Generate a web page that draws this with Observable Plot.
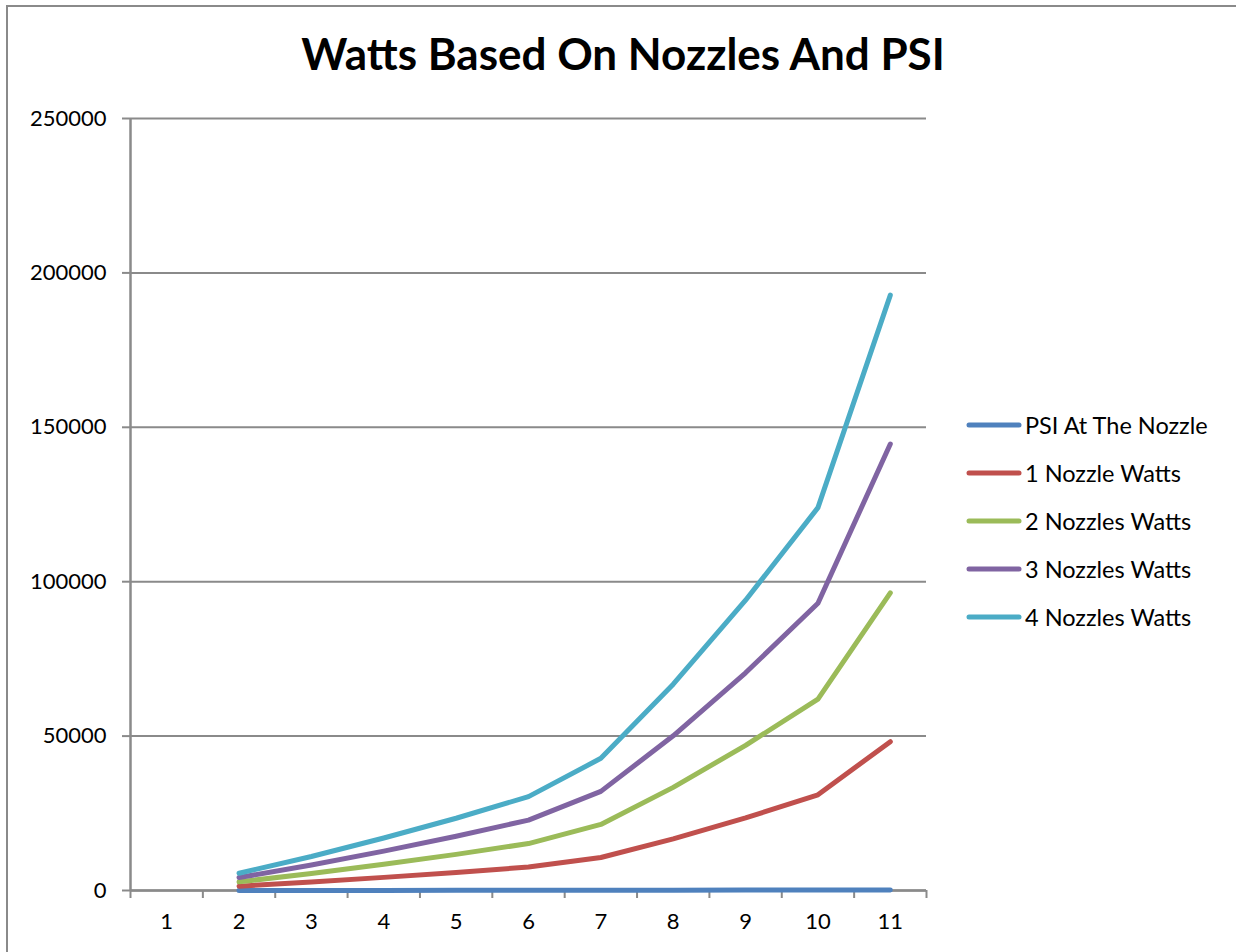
<!DOCTYPE html>
<html>
<head>
<meta charset="utf-8">
<script src="https://cdn.jsdelivr.net/npm/d3@7"></script>
<script src="https://cdn.jsdelivr.net/npm/@observablehq/plot@0.6"></script>
<style>
  html, body { margin: 0; padding: 0; background: #fff; }
  #wrap { position: relative; width: 1236px; height: 952px; overflow: hidden; font-family: Lato, "Open Sans", sans-serif; }
  #border { position: absolute; left: 6px; top: 5px; width: 1300px; height: 1000px; border: 2px solid #8a8a8a; box-sizing: border-box; }
  #title { position: absolute; left: 0; width: 1246px; top: 27px; text-align: center; font-size: 44px; font-weight: bold; color: #000; }
  #chart { position: absolute; left: 0; top: 0; }
  #legend { position: absolute; left: 966px; top: 401px; }
  .item { display: flex; align-items: center; height: 48px; font-size: 23.5px; color: #000; }
  .item svg { margin-right: 3px; }
</style>
</head>
<body>
<div id="wrap">
  <div id="border"></div>
  <div id="chart"></div>
  <div id="title">Watts Based On Nozzles And PSI</div>
  <div id="legend"></div>
</div>
<script>
// Categories on the x axis (row numbers 1..11); data begins at 2
const categories = [1, 2, 3, 4, 5, 6, 7, 8, 9, 10, 11];
const dataCategories = [2, 3, 4, 5, 6, 7, 8, 9, 10, 11];
const yTicks = [0, 50000, 100000, 150000, 200000, 250000];

const seriesNames = ["PSI At The Nozzle", "1 Nozzle Watts", "2 Nozzles Watts", "3 Nozzles Watts", "4 Nozzles Watts"];
const seriesColors = ["#4F81BD", "#C0504D", "#9BBB59", "#8064A2", "#4BACC6"];

const psiAtNozzle   = [20, 30, 40, 50, 60, 75, 100, 125, 150, 200];
const oneNozzle     = [1400, 2750, 4250, 5850, 7600, 10700, 16700, 23500, 31000, 48200];
const twoNozzles    = [2800, 5500, 8500, 11700, 15200, 21400, 33400, 47000, 62000, 96400];
const threeNozzles  = [4200, 8250, 12750, 17550, 22800, 32100, 50100, 70500, 93000, 144600];
const fourNozzles   = [5600, 11000, 17000, 23400, 30400, 42800, 66800, 94000, 124000, 192800];

const seriesValues = [psiAtNozzle, oneNozzle, twoNozzles, threeNozzles, fourNozzles];

const rows = [];
seriesNames.forEach((name, i) => {
  dataCategories.forEach((c, j) => rows.push({series: name, x: c, y: seriesValues[i][j]}));
});

const boundaries = [...categories.map(c => c - 0.5), categories[categories.length - 1] + 0.5];

const plot = Plot.plot({
  width: 1236,
  height: 952,
  marginLeft: 130,
  marginRight: 310,
  marginTop: 118,
  marginBottom: 62,
  style: {fontFamily: "Lato, 'Open Sans', sans-serif", fontSize: "22px", color: "#000", background: "transparent"},
  x: {type: "linear", domain: [0.5, 11.5]},
  y: {type: "linear", domain: [0, 250000]},
  color: {domain: seriesNames, range: seriesColors},
  marks: [
    Plot.gridY(yTicks, {stroke: "#8a8a8a", strokeOpacity: 1, strokeWidth: 2}),
    Plot.axisY(yTicks, {tickSize: 8, tickPadding: 16, tickFormat: d => String(d), stroke: "#8a8a8a", strokeWidth: 2, fontSize: 22, label: null}),
    Plot.axisX(boundaries, {tickSize: 8, tickFormat: () => "", stroke: "#8a8a8a", strokeWidth: 2, label: null}),
    Plot.axisX(categories, {tickSize: 0, tickPadding: 23, tickFormat: d => String(d), fontSize: 22, label: null}),
    Plot.ruleX([0.5], {stroke: "#8a8a8a", strokeWidth: 2.5}),
    Plot.ruleY([0], {stroke: "#8a8a8a", strokeWidth: 2.5}),
    Plot.line(rows, {x: "x", y: "y", z: "series", stroke: "series", strokeWidth: 5, strokeLinecap: "round", strokeLinejoin: "round"})
  ]
});
document.getElementById("chart").appendChild(plot);

const legend = document.getElementById("legend");
seriesNames.forEach((name, i) => {
  const item = document.createElement("div");
  item.className = "item";
  item.innerHTML = `<svg width="56" height="10"><line x1="3" y1="5" x2="53" y2="5" stroke="${seriesColors[i]}" stroke-width="5" stroke-linecap="round"/></svg><span>${name}</span>`;
  legend.appendChild(item);
});
</script>
</body>
</html>
